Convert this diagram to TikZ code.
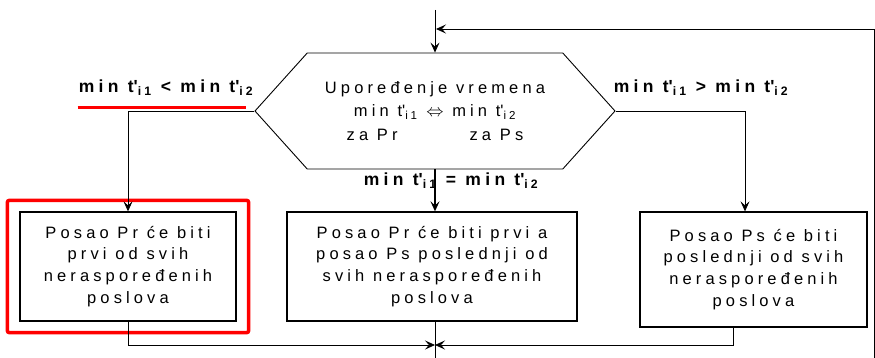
\documentclass[tikz,border=0pt]{standalone}
\usepackage{fontspec}
\setmainfont{Liberation Sans}[LetterSpace=25]
\usetikzlibrary{arrows.meta,calc,positioning,shapes.symbols,fit}

\newcommand{\tsub}[1]{\textsubscript{#1}}
\newcommand{\mint}[1]{min t\textquotesingle\tsub{i#1}}

\begin{document}
\begin{tikzpicture}[x=1pt,y=-1pt,
  box/.style={draw,line width=1.3pt,align=center,inner sep=0pt,
    font=\fontsize{16.5}{21.8}\selectfont},
  cond/.style={inner sep=1pt,font=\fontsize{17.5}{20}\selectfont\bfseries},
  arr/.style={-{Stealth[length=10pt,width=9pt,inset=4pt]},line width=0.8pt},
  underl/.style={red,line width=3pt}]
  \useasboundingbox (0,0) rectangle (875,358);
  \node[signal,signal to=west and east,signal pointer angle=96,draw,line width=0.9pt,
        minimum width=360pt,minimum height=116pt,inner sep=0pt,align=center,
        font=\fontsize{16.5}{23.5}\selectfont] (cmp) at (435,111)
        {Upoređenje vremena\\\mint{1} $\Leftrightarrow$ \mint{2}\\za Pr\hspace{72pt}za Ps};
  \node[box,minimum width=216pt,minimum height=109pt] (lbox) at (128,266.5)
        {Posao Pr će biti\\prvi od svih\\neraspoređenih\\poslova};
  \node[box,minimum width=290pt,minimum height=109pt] (mbox) at (432,266.5)
        {Posao Pr će biti prvi a\\posao Ps poslednji od\\svih neraspoređenih\\poslova};
  \node[box,minimum width=227pt,minimum height=115pt] (rbox) at (753.5,269.5)
        {Posao Ps će biti\\poslednji od svih\\neraspoređenih\\poslova};
  \node[fit=(lbox),draw=red,line width=3.5pt,rounded corners=2pt,
        inner xsep=12pt,inner ysep=11pt] (mark) {};
  \node[cond] (lcond) at (166,88) {\mint{1} < \mint{2}};
  \node[cond] (mcond) at (451,181) {\mint{1} = \mint{2}};
  \node[cond] (rcond) at (701,88) {\mint{1} > \mint{2}};
  \draw[underl] ([yshift=-10pt]lcond.south west) -- ([xshift=-8pt,yshift=-10pt]lcond.south east);
  \coordinate (top) at (435,10);
  \coordinate (back) at (436,29);
  \coordinate (loop) at (874,358);
  \coordinate (join) at (435,345);
  \coordinate (bottom) at (435,358);
  \draw[arr] (top) -- (cmp.north);
  \draw[arr] (loop) |- (back);
  \draw[arr] (cmp.west) -| (lbox.north);
  \draw[arr,line width=2.5pt] (cmp.south) -- (cmp.south |- mbox.north);
  \draw[arr] (cmp.east) -| ([xshift=-8.5pt]rbox.north);
  \draw[arr] (lbox.south) |- (join);
  \draw[arr] ([xshift=-20.5pt]rbox.south) |- (join);
  \draw[line width=0.8pt] (join |- mbox.south) -- (bottom);
\end{tikzpicture}
\end{document}
